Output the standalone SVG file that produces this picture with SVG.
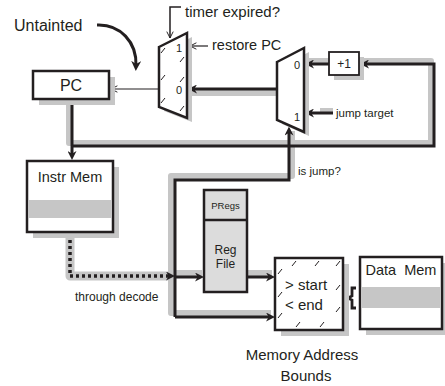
<svg xmlns="http://www.w3.org/2000/svg" width="445" height="386" viewBox="0 0 445 386">
<style>
text{font-family:"Liberation Sans",Arial,sans-serif;fill:#231f20}
.box{fill:#fff;stroke:#231f20;stroke-width:2.5}
.shd{fill:#c6c6c6;stroke:none}
.band{fill:#c6c6c6;stroke:none}
.halo{fill:none;stroke:#c6c6c6;stroke-width:6;stroke-linejoin:round}
.wire{fill:none;stroke:#231f20;stroke-width:3;stroke-linejoin:miter}
.thin{fill:none;stroke:#231f20;stroke-width:1.2}
.hatch{stroke:#231f20;stroke-width:1;fill:none}
</style>
<defs>
<marker id="ah" viewBox="0 0 10 10" refX="5" refY="5" markerWidth="9" markerHeight="9" markerUnits="userSpaceOnUse" orient="auto"><path d="M0,0 L10,5 L0,10 L3,5 z" fill="#231f20"/></marker>
<marker id="oa" viewBox="0 0 10 10" refX="9" refY="5" markerWidth="8" markerHeight="8" markerUnits="userSpaceOnUse" orient="auto"><path d="M1,1 L9,5 L1,9" fill="none" stroke="#231f20" stroke-width="1.2"/></marker>
<marker id="ca" viewBox="0 0 10 10" refX="5" refY="5" markerWidth="10" markerHeight="10" markerUnits="userSpaceOnUse" orient="auto"><path d="M0,0 L10,5 L0,10 L3,5 z" fill="#231f20"/></marker>
</defs>

<g id="connectors">
  <!-- halos -->
  <path class="halo" d="M69,100 V143 H431 V61 H362"/>
  <path class="halo" d="M277,93 H191"/>
  <path class="halo" d="M329,61 H308"/>
  <path class="halo" d="M320,111 H333"/>
  <path class="halo" d="M292,131 V176 H171 V313 H271"/>
  <path class="halo" style="stroke-width:9;stroke-linecap:round" d="M70,236 V276 H170"/>
  <path class="halo" d="M176,273 H202"/>
  <path class="halo" d="M248,273 H272"/>
  <!-- black wires -->
  <path class="thin" d="M158,89 H111" marker-end="url(#oa)"/>
  <path class="thin" d="M208,46 H190" marker-end="url(#oa)"/>
  <path class="thin" style="stroke-width:1.5" d="M181,7 H170 V38" marker-end="url(#oa)"/>
  <path class="wire" d="M277,89 H192.5" marker-end="url(#ah)"/>
  <path class="wire" d="M72,100 V155.5" marker-end="url(#ah)"/>
  <path class="wire" d="M72,146 H434 V64 H364.5" marker-end="url(#ah)"/>
  <path class="wire" d="M329,64 H309.5" marker-end="url(#ah)"/>
  <path class="wire" d="M333,113 H309.5" marker-end="url(#ah)"/>
  <path class="wire" d="M175,317 V180 H289 V131" marker-end="url(#ah)"/>
  <path class="wire" d="M175,317 H270.5" marker-end="url(#ah)"/>
  <path class="wire" style="stroke-width:3.5;stroke-dasharray:3 3" d="M70,234 V276 H170.5" marker-end="url(#ah)"/>
  <path class="wire" d="M175,277 H199.5" marker-end="url(#ah)"/>
  <path class="wire" d="M247,277 H270.5" marker-end="url(#ah)"/>
  <path fill="none" stroke="#231f20" stroke-width="3" d="M97,25 C120,24 137,42 136,66" marker-end="url(#ca)"/>
  <path fill="none" stroke="#231f20" stroke-width="2.8" d="M356,288 H352 V296 L348,298 L352,300 V308 H356"/>
</g>

<g id="untainted-label">
  <text x="14" y="31" font-size="16">Untainted</text>
</g>
<g id="timer-label">
  <text x="185" y="17" font-size="15">timer expired?</text>
</g>
<g id="restore-label">
  <text x="212" y="50" font-size="14.5">restore PC</text>
</g>

<g id="mux-left">
  <polygon class="shd" points="164,51 192,37 192,122 164,111"/>
  <polygon class="box" points="159,47 187,33 187,118 159,107"/>
  <path class="hatch" d="M161,53 L165,48 M161,80 L165,75 M161,103 L165,98 M180,62 L184,57 M180,82 L184,77 M180,111 L184,106"/>
  <text x="179" y="52" font-size="11" text-anchor="middle">1</text>
  <text x="179" y="94" font-size="11" text-anchor="middle">0</text>
</g>

<g id="pc">
  <rect class="shd" x="39" y="77" width="76" height="28"/>
  <rect class="box" x="33" y="71" width="76" height="28"/>
  <text x="71" y="91" font-size="16" text-anchor="middle">PC</text>
</g>

<g id="mux-right">
  <polygon class="shd" points="282,66 309,52 309,136 282,124"/>
  <polygon class="box" points="277,62 304,48 304,132 277,120"/>
  <text x="297" y="69" font-size="11" text-anchor="middle">0</text>
  <text x="297" y="121" font-size="11" text-anchor="middle">1</text>
</g>

<g id="plus1">
  <rect class="shd" x="334" y="57" width="30" height="23"/>
  <rect class="box" x="329" y="52" width="30" height="23" style="stroke-width:1.8"/>
  <text x="344" y="68" font-size="12" text-anchor="middle">+1</text>
</g>

<g id="jump-target-label">
  <text x="336" y="117" font-size="11.5">jump target</text>
</g>
<g id="is-jump-label">
  <text x="298" y="175" font-size="11.5">is jump?</text>
</g>
<g id="decode-label">
  <text x="75" y="301" font-size="12">through decode</text>
</g>

<g id="instr-mem">
  <rect class="shd" x="33" y="167" width="86" height="71"/>
  <rect class="box" x="27" y="161" width="86" height="71"/>
  <rect class="band" x="28.5" y="200" width="83" height="18"/>
  <text x="70" y="182" font-size="14.5" text-anchor="middle">Instr Mem</text>
</g>

<g id="regfile">
  <rect class="box" x="204" y="190" width="43" height="102" style="fill:#dcdcdc"/>
  <line x1="204" y1="220" x2="247" y2="220" stroke="#231f20" stroke-width="2.5"/>
  <text x="225.5" y="209" font-size="9.5" text-anchor="middle">PRegs</text>
  <text x="225.5" y="254" font-size="12" text-anchor="middle">Reg</text>
  <text x="225.5" y="268" font-size="12" text-anchor="middle">File</text>
</g>

<g id="bounds">
  <rect class="shd" x="281" y="264" width="68" height="72"/>
  <rect class="box" x="275" y="258" width="68" height="72"/>
  <path class="hatch" d="M278,274 L282,269 M278,297 L282,292 M278,318 L282,313 M292,266 L296,261 M315,266 L319,261 M336,266 L340,261 M336,290 L340,285 M336,312 L340,307 M296,327 L300,322 M320,327 L324,322"/>
  <text x="285" y="290" font-size="15">&gt; start</text>
  <text x="285" y="310" font-size="15">&lt; end</text>
</g>

<g id="data-mem">
  <rect class="shd" x="366" y="263" width="82" height="72"/>
  <rect class="box" x="360" y="257" width="82" height="72"/>
  <rect class="band" x="361.5" y="287" width="79" height="21"/>
  <text x="401" y="275" font-size="14.5" text-anchor="middle" xml:space="preserve">Data  Mem</text>
</g>

<g id="bounds-caption">
  <text x="302" y="360" font-size="15" text-anchor="middle">Memory Address</text>
  <text x="306" y="381" font-size="15" text-anchor="middle">Bounds</text>
</g>
</svg>
